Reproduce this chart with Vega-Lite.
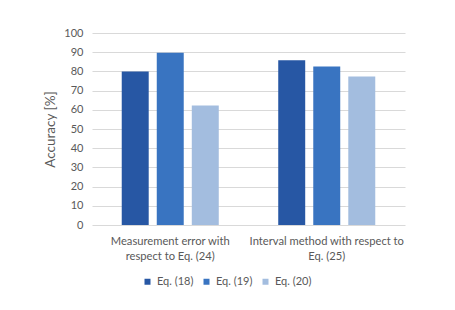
{
  "$schema": "https://vega.github.io/schema/vega-lite/v6.json",
  "autosize": "none",
  "width": 313,
  "height": 192,
  "padding": {"left": 92, "top": 33, "right": 50, "bottom": 85},
  "background": "white",
  "data": {
    "values": [
      {"group": "Measurement error with|respect to Eq. (24)", "series": "Eq. (18)", "accuracy": 80},
      {"group": "Measurement error with|respect to Eq. (24)", "series": "Eq. (19)", "accuracy": 89.7},
      {"group": "Measurement error with|respect to Eq. (24)", "series": "Eq. (20)", "accuracy": 62.3},
      {"group": "Interval method with respect to|Eq. (25)", "series": "Eq. (18)", "accuracy": 85.8},
      {"group": "Interval method with respect to|Eq. (25)", "series": "Eq. (19)", "accuracy": 82.5},
      {"group": "Interval method with respect to|Eq. (25)", "series": "Eq. (20)", "accuracy": 77.4}
    ]
  },
  "mark": {"type": "bar"},
  "encoding": {
    "x": {
      "field": "group",
      "type": "nominal",
      "sort": null,
      "scale": {"paddingInner": 0.38, "paddingOuter": 0.19},
      "axis": {
        "title": null,
        "labelAngle": 0,
        "labelExpr": "split(datum.label, '|')",
        "labelLineHeight": 15,
        "labelPadding": 10,
        "ticks": false,
        "domain": false,
        "labelFont": "Lato",
        "labelFontSize": 11.2,
        "labelColor": "#595959",
        "labelLimit": 300
      }
    },
    "xOffset": {
      "field": "series",
      "type": "nominal",
      "scale": {"paddingInner": 0.23, "paddingOuter": 0}
    },
    "y": {
      "field": "accuracy",
      "type": "quantitative",
      "scale": {"domain": [0, 100]},
      "axis": {
        "title": "Accuracy [%]",
        "values": [0, 10, 20, 30, 40, 50, 60, 70, 80, 90, 100],
        "ticks": false,
        "domain": false,
        "labelPadding": 9,
        "labelFont": "Lato",
        "labelFontSize": 11,
        "labelColor": "#595959",
        "gridColor": "#d9d9d9",
        "titleFont": "Lato",
        "titleFontSize": 13.5,
        "titleFontWeight": "normal",
        "titleColor": "#595959",
        "titleX": -42,
        "titleY": 96,
        "titleAngle": -90,
        "titleBaseline": "middle",
        "titleAlign": "center"
      }
    },
    "color": {
      "field": "series",
      "type": "nominal",
      "scale": {"domain": ["Eq. (18)", "Eq. (19)", "Eq. (20)"], "range": ["#2757A4", "#3974C1", "#A3BDDF"]},
      "legend": {
        "title": null,
        "orient": "none",
        "direction": "horizontal",
        "legendX": 50,
        "legendY": 243,
        "symbolType": "square",
        "symbolSize": 36,
        "symbolStrokeWidth": 0,
        "labelFont": "Lato",
        "labelFontSize": 11,
        "labelColor": "#595959",
        "labelOffset": 4,
        "columnPadding": 7
      }
    }
  },
  "config": {
    "view": {"stroke": null}
  }
}
